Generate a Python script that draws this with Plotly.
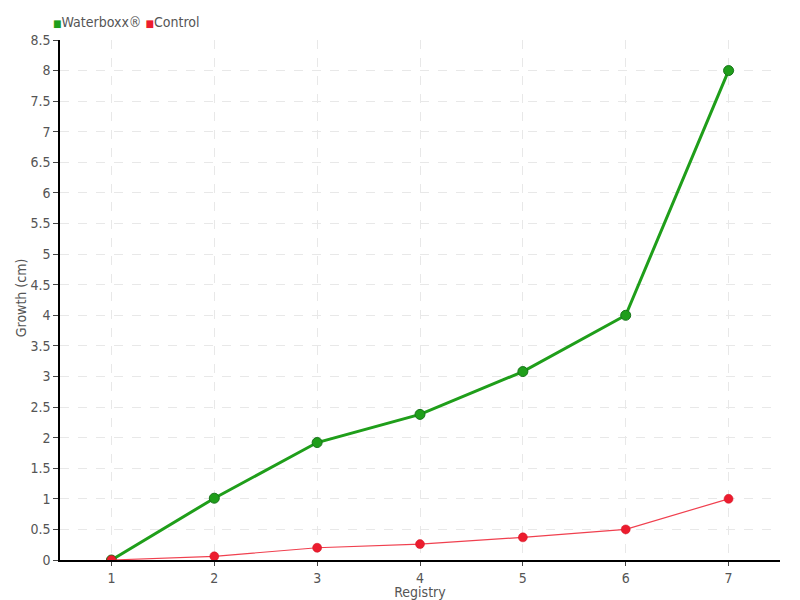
import plotly.graph_objects as go

registry = [1, 2, 3, 4, 5, 6, 7]
waterboxx = [0, 1.01, 1.92, 2.38, 3.08, 4.0, 8.0]
control = [0, 0.06, 0.2, 0.26, 0.37, 0.5, 1.0]
y_ticks = [0, 0.5, 1, 1.5, 2, 2.5, 3, 3.5, 4, 4.5, 5, 5.5, 6, 6.5, 7, 7.5, 8, 8.5]
series_names = ["Waterboxx®", "Control"]
x_title = "Registry"
y_title = "Growth (cm)"

FONT = "Liberation Sans Narrow, DejaVu Sans Condensed, sans-serif"
GREEN = "#1f9e1a"
RED = "#ec1c2e"

fig = go.Figure()
fig.add_trace(go.Scatter(x=registry, y=waterboxx, mode="lines+markers", name=series_names[0],
                         line=dict(color=GREEN, width=3),
                         marker=dict(size=10, color="#1f9e1a", line=dict(color="#17741a", width=1))))
fig.add_trace(go.Scatter(x=registry, y=control, mode="lines+markers", name=series_names[1],
                         line=dict(color="#f0404f", width=1.2),
                         marker=dict(size=9, color=RED, line=dict(color="#d01020", width=0.5))))

sq = "<span style='font-size:10px;color:{c}'>■</span>"
legend_text = (sq.format(c=GREEN) + series_names[0] + " " + sq.format(c=RED) + series_names[1])
fig.add_annotation(text=legend_text, xref="paper", yref="paper", x=-0.012, y=1.035,
                   xanchor="left", yanchor="middle", showarrow=False,
                   font=dict(family=FONT, size=14, color="#555555"))
fig.add_annotation(text=y_title, xref="paper", yref="paper", x=-0.053, y=0.505,
                   xanchor="center", yanchor="middle", textangle=-90, showarrow=False,
                   font=dict(family=FONT, size=14, color="#555555"))

fig.update_layout(
    width=792, height=592,
    margin=dict(l=52, r=20, t=32, b=40, autoexpand=False),
    showlegend=False,
    paper_bgcolor="white", plot_bgcolor="white",
    font=dict(family=FONT, size=15, color="#555555"),
    xaxis=dict(range=[0.5, 7.5], tickvals=registry, ticks="outside", ticklen=4,
               showline=True, linecolor="black", linewidth=1.5,
               showgrid=True, gridcolor="#e8e8e8", griddash="dash", zeroline=False,
               title=dict(text=x_title, standoff=0, font=dict(size=14)),
               tickfont=dict(size=14)),
    yaxis=dict(range=[0, 8.5], tickvals=y_ticks, ticks="outside", ticklen=5,
               showline=True, linecolor="black", linewidth=1.5,
               showgrid=True, gridcolor="#e8e8e8", griddash="dash", zeroline=False,
               tickfont=dict(size=14)),
)

fig.write_html("out.html")
